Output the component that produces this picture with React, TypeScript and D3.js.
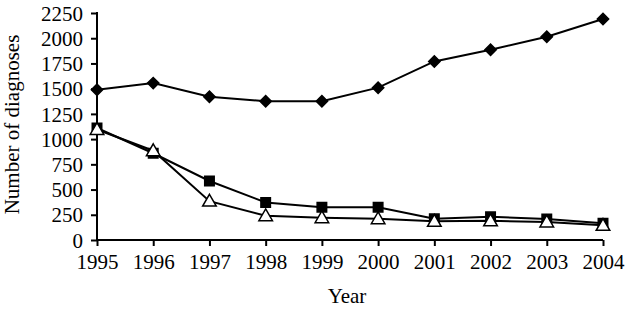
import React, { useEffect, useRef } from 'react';
import { select, scaleLinear, axisLeft, axisBottom, line, symbol, symbolSquare, symbolTriangle } from 'd3';

const years = [1995, 1996, 1997, 1998, 1999, 2000, 2001, 2002, 2003, 2004];
const yTicks = [0, 250, 500, 750, 1000, 1250, 1500, 1750, 2000, 2250];
const diamondSeries = [1490, 1555, 1420, 1375, 1375, 1510, 1770, 1885, 2015, 2190];
const squareSeries = [1110, 860, 585, 372, 325, 325, 210, 230, 207, 165];
const triangleSeries = [1095, 885, 385, 240, 220, 210, 185, 190, 178, 145];

const W = 625;
const H = 309;
const FONT = "'Liberation Serif', 'Times New Roman', Times, 'DejaVu Serif', serif";

export default function App() {
  const svgRef = useRef<SVGSVGElement>(null);

  useEffect(() => {
    if (!svgRef.current) return;
    const svg = select(svgRef.current);
    svg.selectAll('*').remove();

    const left = 97, right = 603, top = 13, bottom = 240;
    const x = scaleLinear().domain([1995, 2004]).range([left, right]);
    const y = scaleLinear().domain([0, 2250]).range([bottom, top]);

    const yAxis = svg.append('g')
      .attr('transform', `translate(${left},0)`)
      .call(axisLeft(y).tickValues(yTicks).tickSize(6).tickPadding(8).tickFormat(d => String(d)));
    const xAxis = svg.append('g')
      .attr('transform', `translate(0,${bottom})`)
      .call(axisBottom(x).tickValues(years).tickSize(6).tickPadding(8).tickFormat(d => String(d)));

    [yAxis, xAxis].forEach(a => {
      a.attr('font-family', FONT).attr('font-size', 21);
      a.selectAll('path.domain').attr('stroke', '#000').attr('stroke-width', 2);
      a.selectAll('.tick line').attr('stroke', '#000').attr('stroke-width', 2);
      a.selectAll('text').attr('fill', '#000');
    });
    yAxis.selectAll('text').attr('dy', '0.34em');
    // plain domain lines without end caps
    yAxis.select('path.domain').attr('d', `M0,${top - 1}V${bottom}`);
    xAxis.select('path.domain').attr('d', `M${left},0H${right}`);

    const series = [
      { values: diamondSeries, shape: symbolSquare, size: 64, rotate: 45, dy: 0, fill: '#000' },
      { values: squareSeries, shape: symbolSquare, size: 90, rotate: 0, dy: 0, fill: '#000' },
      { values: triangleSeries, shape: symbolTriangle, size: 80, rotate: 0, dy: 1, fill: '#fff' },
    ];

    const lineGen = line<number>().x((_, i) => x(years[i])).y(d => y(d));

    series.forEach(s => {
      svg.append('path')
        .attr('d', lineGen(s.values) || '')
        .attr('fill', 'none')
        .attr('stroke', '#000')
        .attr('stroke-width', 2);
    });
    series.forEach(s => {
      svg.append('g').selectAll('path')
        .data(s.values)
        .enter()
        .append('path')
        .attr('d', symbol().type(s.shape).size(s.size)())
        .attr('transform', (d, i) => `translate(${x(years[i])},${y(d) + s.dy}) rotate(${s.rotate})`)
        .attr('fill', s.fill)
        .attr('stroke', '#000')
        .attr('stroke-width', 1.5);
    });

    svg.append('text')
      .attr('transform', `translate(19,${(top + bottom) / 2 - 2}) rotate(-90)`)
      .attr('text-anchor', 'middle')
      .attr('font-family', FONT)
      .attr('font-size', 21)
      .text('Number of diagnoses');

    svg.append('text')
      .attr('x', 347)
      .attr('y', 303)
      .attr('text-anchor', 'middle')
      .attr('font-family', FONT)
      .attr('font-size', 21)
      .text('Year');
  }, []);

  return (
    <svg ref={svgRef} width={W} height={H} style={{ position: 'absolute', left: 0, top: 0, background: '#fff' }} />
  );
}
